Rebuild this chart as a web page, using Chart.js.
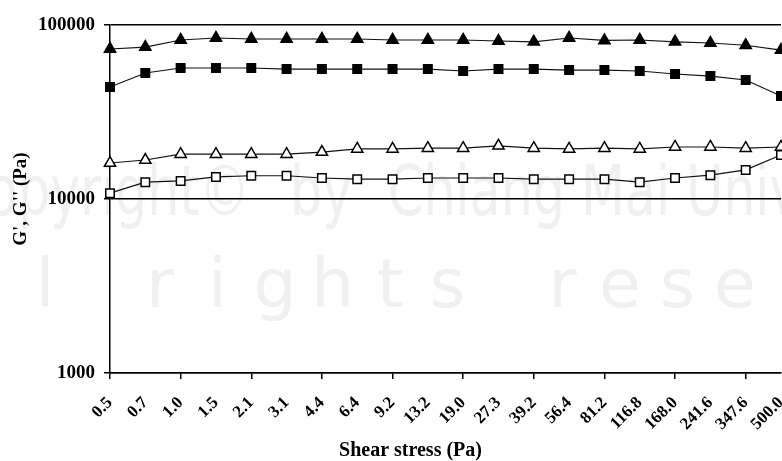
<!DOCTYPE html>
<html>
<head>
<meta charset="utf-8">
<script src="https://cdn.jsdelivr.net/npm/chart.js@4.4.1/dist/chart.umd.min.js"></script>
<style>
  html, body { margin: 0; padding: 0; background: #fff; }
  #wrap { width: 782px; height: 461px; }
</style>
</head>
<body>
<div id="wrap"><canvas id="chart" width="782" height="461"></canvas></div>
<script>
// shear stress sweep (Pa)
const stressLabels = ['0.5', '0.7', '1.0', '1.5', '2.1', '3.1', '4.4', '6.4', '9.2', '13.2',
  '19.0', '27.3', '39.2', '56.4', '81.2', '116.8', '168.0', '241.6', '347.6', '500.0'];

// moduli (Pa)
const solidTriangle = [72800, 74700, 82000, 84200, 83100, 83100, 83100, 83100, 82000, 82000,
  82000, 80900, 80000, 84200, 81500, 82000, 80000, 78800, 76500, 71800];
const solidSquare = [44000, 53000, 56600, 56600, 56600, 55800, 55800, 55800, 55800, 55800,
  54400, 55800, 55800, 55100, 55100, 54400, 52300, 50900, 48300, 39100];
const openTriangle = [16100, 16750, 18100, 18100, 18100, 18100, 18600, 19400, 19400, 19600,
  19600, 20200, 19600, 19400, 19600, 19400, 19900, 19900, 19600, 19900];
const openSquare = [10800, 12500, 12700, 13400, 13600, 13600, 13200, 13000, 13000, 13200,
  13200, 13200, 13000, 13000, 13000, 12500, 13200, 13700, 14700, 17900];

const yTicks = [1000, 10000, 100000];

const FONT = '"Liberation Serif", "Times New Roman", serif';
Chart.defaults.font.family = FONT;
Chart.defaults.font.weight = 'bold';
Chart.defaults.color = '#000';

// faint scanned-page watermark behind the plot
const watermark = {
  id: 'watermark',
  beforeDraw(chart) {
    const ctx = chart.ctx;
    ctx.save();
    ctx.fillStyle = '#fff';
    ctx.fillRect(0, 0, chart.width, chart.height);
    ctx.fillStyle = '#f0f0f0';
    ctx.textBaseline = 'alphabetic';

    ctx.font = '70px "DejaVu Sans", sans-serif';
    const sx = 177 / ctx.measureText('Chiang').width;
    ctx.save();
    ctx.scale(sx, 1);
    ctx.textAlign = 'right';
    ctx.fillText('Copyright\u00a9', 250 / sx, 215);
    ctx.textAlign = 'left';
    ctx.fillText('by', 290 / sx, 215);
    ctx.fillText('Chiang Mai University', 388 / sx, 215);
    ctx.restore();

    ctx.font = '68px "DejaVu Sans", sans-serif';
    ctx.textAlign = 'center';
    const line = 'All rights reserved';
    for (let i = 0; i < line.length; i++) {
      ctx.fillText(line[i], -70 + i * 57.5, 307);
    }
    ctx.restore();
  }
};

function series(label, values, style, fill, radius) {
  return {
    label,
    data: values,
    pointStyle: style,
    pointRadius: radius,
    pointBackgroundColor: fill,
    pointBorderColor: '#000',
    pointBorderWidth: 1.5,
    borderColor: '#111',
    borderWidth: 1.2,
    tension: 0,
    fill: false,
    clip: false,
  };
}

new Chart(document.getElementById('chart'), {
  type: 'line',
  data: {
    labels: stressLabels,
    datasets: [
      series('solid triangle', solidTriangle, 'triangle', '#000', 6.5),
      series('solid square', solidSquare, 'rect', '#000', 6),
      series('open triangle', openTriangle, 'triangle', '#fff', 6.5),
      series('open square', openSquare, 'rect', '#fff', 6),
    ],
  },
  options: {
    responsive: false,
    animation: false,
    devicePixelRatio: 1,
    layout: { autoPadding: false, padding: { top: 25, right: 1, bottom: 0, left: 0 } },
    plugins: {
      legend: { display: false },
      tooltip: { enabled: false },
    },
    scales: {
      x: {
        type: 'category',
        offset: false,
        border: { display: true, color: '#000', width: 1.5 },
        grid: {
          drawOnChartArea: false,
          tickLength: 6,
          lineWidth: 1.5,
          color: c => (c.index % 2 === 0 ? '#000' : 'rgba(0,0,0,0)'),
        },
        ticks: {
          autoSkip: false,
          maxRotation: 45,
          minRotation: 45,
          padding: 14,
          font: { size: 17, weight: 'bold' },
        },
        title: {
          display: true,
          text: 'Shear stress (Pa)' + '\u00a0'.repeat(14),
          font: { size: 20, weight: 'bold', lineHeight: 1 },
          padding: { top: 0, bottom: 0 },
        },
        afterFit: s => {
          s.height = 88;
          s.paddingLeft = 0;
          s.paddingRight = 0;
        },
      },
      y: {
        type: 'logarithmic',
        min: 1000,
        max: 100000,
        afterBuildTicks: s => { s.ticks = yTicks.map(v => ({ value: v })); },
        border: { display: true, color: '#000', width: 1.5 },
        grid: { color: '#000', lineWidth: 1.5, tickLength: 6 },
        ticks: {
          callback: v => String(v),
          padding: 9,
          font: { size: 19, weight: 'bold' },
        },
        title: {
          display: true,
          text: "G', G'' (Pa)",
          font: { size: 19, weight: 'bold' },
          padding: { top: 10, bottom: 0 },
        },
        afterFit: s => { s.width = 110; },
      },
    },
  },
  plugins: [watermark],
});
</script>
</body>
</html>
